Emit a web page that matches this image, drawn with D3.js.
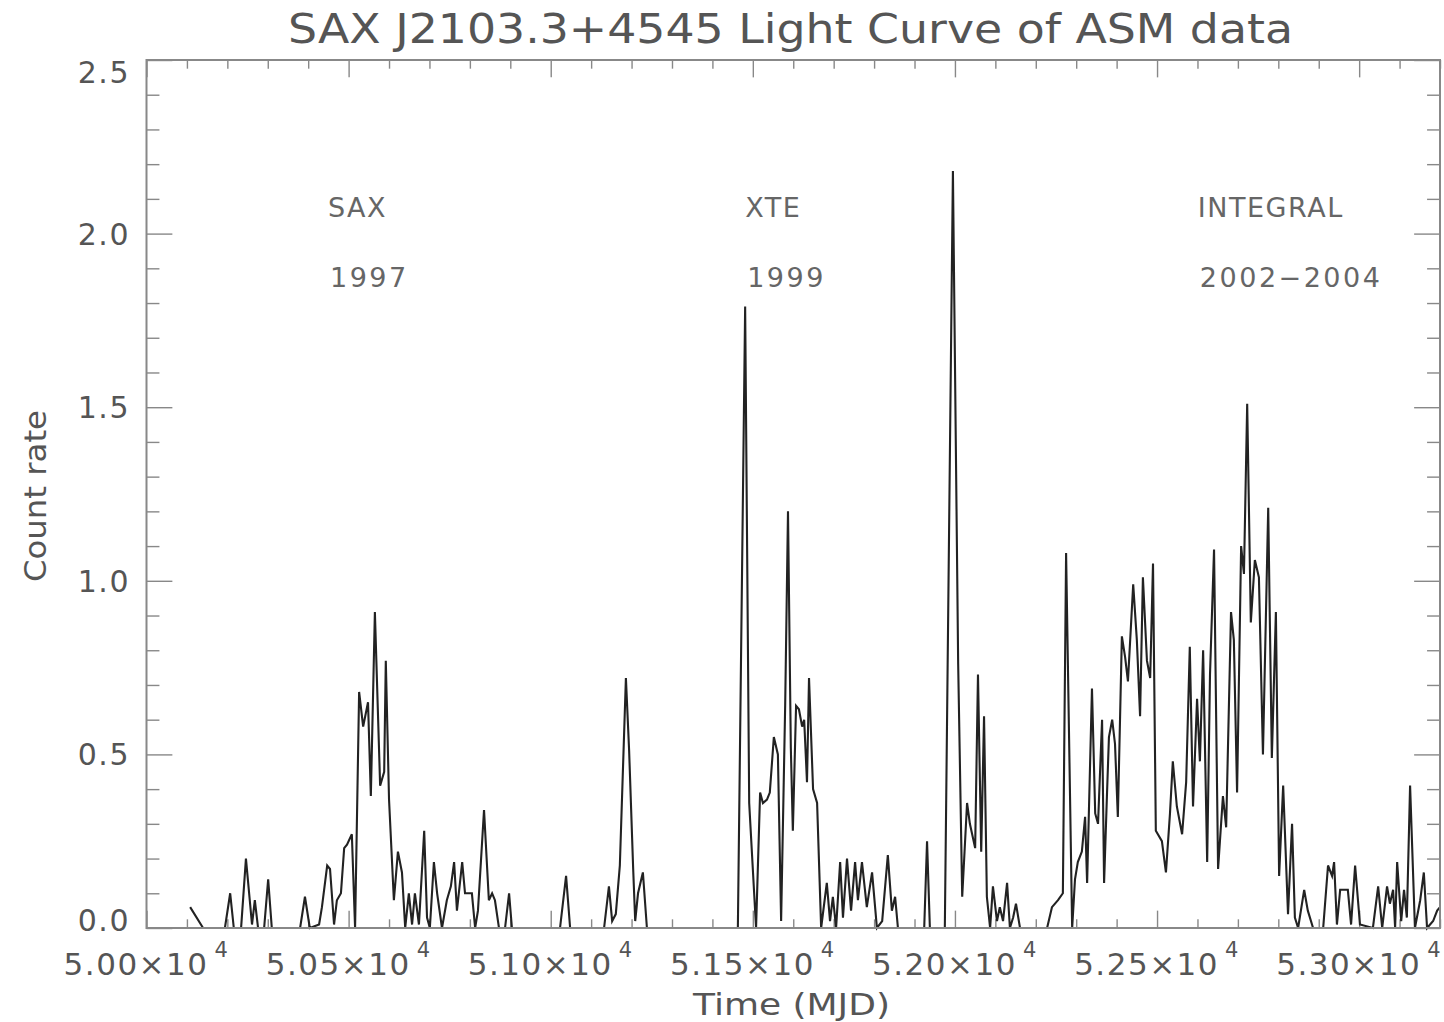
<!DOCTYPE html>
<html>
<head>
<meta charset="utf-8">
<title>SAX J2103.3+4545 Light Curve of ASM data</title>
<script src="https://cdn.jsdelivr.net/npm/d3@7"></script>
<style>
  html, body { margin: 0; padding: 0; background: #ffffff; }
  svg { display: block; }
  text { font-family: "DejaVu Sans", "Liberation Sans", sans-serif; fill: #555555; }
</style>
</head>
<body>
<svg id="chart" width="1444" height="1022"></svg>
<script>
// ASM light curve of SAX J2103.3+4545: time (MJD) and count rate
const mjd = [
  50108, 50140, 50194, 50207, 50216, 50234, 50246, 50261, 50268, 50276,
  50291, 50301, 50310, 50380, 50392, 50404, 50427, 50434, 50447, 50454,
  50464, 50471, 50481, 50489, 50496, 50508, 50516, 50526, 50536, 50548,
  50555, 50565, 50578, 50588, 50592, 50600, 50612, 50622, 50632, 50640,
  50649, 50657, 50664, 50674, 50687, 50694, 50701, 50711, 50719, 50731,
  50743, 50753, 50761, 50768, 50781, 50788, 50805, 50813, 50820, 50835,
  50847, 50855, 50862, 50872, 50887, 50897, 50904, 51023, 51038, 51048,
  51132, 51144, 51152, 51161, 51171, 51186, 51194, 51204, 51209, 51216,
  51228, 51238, 51463, 51481, 51491, 51508, 51518, 51525, 51535, 51542,
  51552, 51562, 51570, 51580, 51587, 51594, 51599, 51607, 51614, 51622,
  51627, 51634, 51639, 51649, 51659, 51669, 51683, 51691, 51698, 51706,
  51716, 51723, 51733, 51743, 51753, 51760, 51770, 51782, 51795, 51807,
  51820, 51834, 51844, 51852, 51859, 51924, 51931, 51938, 51975, 51995,
  52008, 52018, 52030, 52037, 52050, 52057, 52065, 52072, 52079, 52087,
  52094, 52104, 52111, 52119, 52129, 52136, 52144, 52151, 52161, 52228,
  52240, 52255, 52267, 52275, 52290, 52297, 52304, 52314, 52322, 52327,
  52339, 52347, 52354, 52364, 52369, 52376, 52381, 52389, 52396, 52403,
  52413, 52421, 52428, 52441, 52450, 52458, 52465, 52475, 52483, 52490,
  52497, 52512, 52522, 52532, 52539, 52549, 52562, 52572, 52581, 52589,
  52599, 52606, 52614, 52624, 52631, 52641, 52651, 52663, 52671, 52683,
  52690, 52698, 52708, 52715, 52723, 52732, 52742, 52752, 52762, 52775,
  52784, 52794, 52802, 52812, 52824, 52834, 52841, 52849, 52864, 52873,
  52886, 52911, 52923, 52933, 52938, 52945, 52953, 52960, 52972, 52980,
  52990, 53002, 53034, 53047, 53057, 53069, 53076, 53084, 53089, 53094,
  53104, 53111, 53118, 53126, 53138, 53151, 53160, 53168, 53183, 53193,
  53200
];
const countRate = [
  0.06, 0.00, 0.00, 0.10, 0.00, 0.00, 0.20, 0.01, 0.08, 0.00,
  0.00, 0.14, 0.00, 0.00, 0.09, 0.00, 0.01, 0.06, 0.18, 0.17,
  0.01, 0.08, 0.10, 0.23, 0.24, 0.27, 0.00, 0.68, 0.58, 0.65,
  0.38, 0.91, 0.41, 0.45, 0.77, 0.37, 0.08, 0.22, 0.16, 0.00,
  0.10, 0.01, 0.10, 0.01, 0.28, 0.03, 0.00, 0.19, 0.10, 0.00,
  0.08, 0.12, 0.19, 0.05, 0.19, 0.10, 0.10, 0.00, 0.05, 0.34,
  0.08, 0.10, 0.08, 0.00, 0.00, 0.10, 0.00, 0.00, 0.15, 0.00,
  0.00, 0.12, 0.02, 0.04, 0.18, 0.72, 0.51, 0.17, 0.02, 0.10,
  0.16, 0.00, 0.00, 1.79, 0.36, 0.00, 0.39, 0.36, 0.37, 0.39,
  0.55, 0.50, 0.02, 0.64, 1.20, 0.52, 0.28, 0.64, 0.63, 0.58,
  0.60, 0.42, 0.72, 0.40, 0.36, 0.00, 0.13, 0.02, 0.09, 0.00,
  0.19, 0.03, 0.20, 0.05, 0.19, 0.08, 0.19, 0.06, 0.16, 0.00,
  0.02, 0.21, 0.05, 0.09, 0.00, 0.00, 0.25, 0.00, 0.00, 2.18,
  0.76, 0.09, 0.36, 0.30, 0.23, 0.73, 0.22, 0.61, 0.09, 0.00,
  0.12, 0.02, 0.06, 0.02, 0.13, 0.00, 0.03, 0.07, 0.00, 0.00,
  0.06, 0.08, 0.10, 1.08, 0.00, 0.14, 0.19, 0.22, 0.32, 0.13,
  0.69, 0.33, 0.30, 0.60, 0.13, 0.38, 0.55, 0.60, 0.53, 0.32,
  0.84, 0.78, 0.71, 0.99, 0.83, 0.61, 1.01, 0.77, 0.72, 1.05,
  0.28, 0.25, 0.16, 0.33, 0.48, 0.35, 0.27, 0.42, 0.81, 0.35,
  0.66, 0.48, 0.80, 0.19, 0.73, 1.09, 0.17, 0.38, 0.29, 0.91,
  0.83, 0.39, 1.10, 1.02, 1.51, 0.88, 1.06, 1.01, 0.50, 1.21,
  0.49, 0.91, 0.15, 0.41, 0.04, 0.30, 0.03, 0.00, 0.11, 0.05,
  0.00, 0.00, 0.18, 0.15, 0.19, 0.01, 0.11, 0.11, 0.11, 0.01,
  0.18, 0.01, 0.00, 0.12, 0.00, 0.12, 0.07, 0.11, 0.00, 0.19,
  0.02, 0.11, 0.03, 0.41, 0.00, 0.08, 0.16, 0.00, 0.02, 0.05,
  0.06
];

// Axis ticks and their labels
const xMajorTicks = [50000, 50500, 51000, 51500, 52000, 52500, 53000];
const xTickMantissa = ["5.00", "5.05", "5.10", "5.15", "5.20", "5.25", "5.30"];
const xTickExponent = "4";
const xMinorStep = 100;
const yMajorTicks = [0, 0.5, 1.0, 1.5, 2.0, 2.5];
const yTickLabels = ["0.0", "0.5", "1.0", "1.5", "2.0", "2.5"];
const yMinorStep = 0.1;

// Mission annotations
const missionNames = ["SAX", "XTE", "INTEGRAL"];
const missionYears = ["1997", "1999", "2002\u22122004"];
const missionMjd = [50449, 51481, 52601];
const nameRate = 2.048;
const yearRate = 1.846;

const titleText = "SAX J2103.3+4545 Light Curve of ASM data";
const xTitle = "Time (MJD)";
const yTitle = "Count rate";

// ---- layout ----
const plot = { left: 146.5, right: 1440, top: 60, bottom: 928 };
const svg = d3.select("#chart");

const x = d3.scaleLinear().domain([50000, 53200]).range([plot.left, plot.right]);
const y = d3.scaleLinear().domain([0, 2.5]).range([plot.bottom, plot.top]);

const axisColor = "#888888";
const plotW = plot.right - plot.left, plotH = plot.bottom - plot.top;
const xMajorLen = plotH * 0.02, yMajorLen = plotW * 0.02;

const xMinorTicks = d3.range(50000, 53200 + 1, xMinorStep).filter(v => !xMajorTicks.includes(v));
const yMinorTicks = d3.range(0, 25 + 1).map(i => +(i * yMinorStep).toFixed(1)).filter(v => !yMajorTicks.includes(v));

function drawAxis(gen, tx, ty) {
  const g = svg.append("g").attr("transform", `translate(${tx},${ty})`).call(gen);
  g.select(".domain").remove();
  g.selectAll(".tick line").attr("stroke", axisColor).attr("stroke-width", 1.4);
  g.selectAll(".tick text").remove();
  return g;
}

// bottom & top (ticks pointing into the box)
drawAxis(d3.axisTop(x).tickValues(xMajorTicks).tickSize(xMajorLen), 0, plot.bottom);
drawAxis(d3.axisTop(x).tickValues(xMinorTicks).tickSize(xMajorLen / 2), 0, plot.bottom);
drawAxis(d3.axisBottom(x).tickValues(xMajorTicks).tickSize(xMajorLen), 0, plot.top);
drawAxis(d3.axisBottom(x).tickValues(xMinorTicks).tickSize(xMajorLen / 2), 0, plot.top);
// left & right
drawAxis(d3.axisRight(y).tickValues(yMajorTicks).tickSize(yMajorLen), plot.left, 0);
drawAxis(d3.axisRight(y).tickValues(yMinorTicks).tickSize(yMajorLen / 2), plot.left, 0);
drawAxis(d3.axisLeft(y).tickValues(yMajorTicks).tickSize(yMajorLen), plot.right, 0);
drawAxis(d3.axisLeft(y).tickValues(yMinorTicks).tickSize(yMajorLen / 2), plot.right, 0);

// light curve
const series = mjd.map((t, i) => ({ t, r: countRate[i] }));
const line = d3.line().x(d => x(d.t)).y(d => y(d.r));
svg.append("path")
  .datum(series)
  .attr("d", line)
  .attr("fill", "none")
  .attr("stroke", "#222222")
  .attr("stroke-width", 2.1)
  .attr("stroke-linejoin", "miter")
  .attr("stroke-miterlimit", 4);

// box frame
svg.append("rect")
  .attr("x", plot.left).attr("y", plot.top)
  .attr("width", plotW).attr("height", plotH)
  .attr("fill", "none").attr("stroke", axisColor).attr("stroke-width", 2);

// x tick labels: mantissa × 10^exponent
const xl = svg.append("g").selectAll("text")
  .data(xMajorTicks)
  .join("text")
  .attr("x", d => x(d))
  .attr("y", 975)
  .attr("text-anchor", "middle")
  .attr("font-size", 31)
  .attr("letter-spacing", 1.5);
xl.append("tspan").text((d, i) => xTickMantissa[i] + "\u00d710");
xl.append("tspan").attr("dx", 6).attr("dy", -18).attr("font-size", 21).text(xTickExponent);

// y tick labels (end labels kept inside the box height)
svg.append("g").selectAll("text")
  .data(yMajorTicks)
  .join("text")
  .attr("x", 130)
  .attr("y", d => Math.min(Math.max(y(d), plot.top + 12), plot.bottom - 8) + 11)
  .attr("text-anchor", "end")
  .attr("font-size", 30)
  .attr("letter-spacing", 1.5)
  .text((d, i) => yTickLabels[i]);

// title
svg.append("text")
  .attr("x", 288).attr("y", 43)
  .attr("font-size", 41)
  .attr("textLength", 1005).attr("lengthAdjust", "spacingAndGlyphs")
  .text(titleText);

// axis titles
svg.append("text")
  .attr("x", 693).attr("y", 1015)
  .attr("font-size", 31)
  .attr("textLength", 197).attr("lengthAdjust", "spacingAndGlyphs")
  .text(xTitle);
svg.append("text")
  .attr("transform", "translate(46,582) rotate(-90)")
  .attr("font-size", 31)
  .attr("textLength", 172).attr("lengthAdjust", "spacingAndGlyphs")
  .text(yTitle);

// mission annotations
const ann = svg.append("g").attr("font-size", 27);
ann.selectAll("text.name")
  .data(missionNames)
  .join("text")
  .attr("class", "name")
  .attr("x", (d, i) => x(missionMjd[i]))
  .attr("y", y(nameRate))
  .attr("letter-spacing", 1.5)
  .style("fill", "#666666")
  .text(d => d);
ann.selectAll("text.year")
  .data(missionYears)
  .join("text")
  .attr("class", "year")
  .attr("x", (d, i) => x(missionMjd[i]) + 2)
  .attr("y", y(yearRate))
  .attr("letter-spacing", 2.5)
  .style("fill", "#666666")
  .text(d => d);
</script>
</body>
</html>
